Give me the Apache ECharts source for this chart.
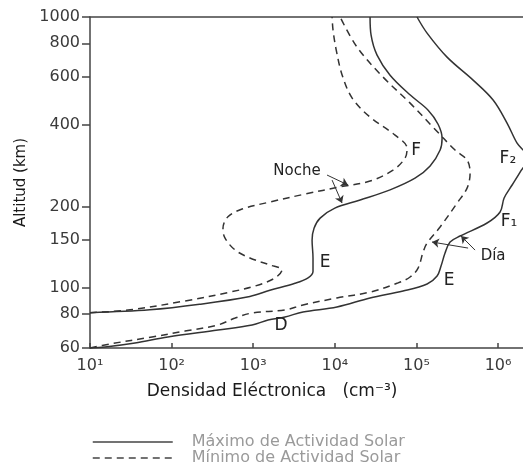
<!DOCTYPE html>
<html><head><meta charset="utf-8">
<script src="https://cdn.jsdelivr.net/npm/echarts@6/dist/echarts.min.js"></script>
<style>html,body{margin:0;padding:0;background:#fff}#c{width:523px;height:468px}</style>
</head><body><div id="c"></div>
<script>
// ---- data (density in cm^-3, altitude in km) ----
const xTickExponents = [1, 2, 3, 4, 5, 6];
const yTickValues = [60, 80, 100, 150, 200, 400, 600, 800, 1000];
const xMinDensity = 10;
const xMaxDensity = 2.02e6;
const yMinAltitude = 60;
const yMaxAltitude = 1000;
const seriesNames = ['Máximo de Actividad Solar', 'Mínimo de Actividad Solar'];

const nightMaxDensity = [10, 54, 220, 910, 1600, 3250, 4700, 5400, 5400, 5260, 5560, 6600, 10000, 20400, 47500, 96000, 147000, 195000, 206000, 184000, 139000, 84000, 47500, 32900, 27800, 27000];
const nightMaxAltitude = [81, 83, 87, 93, 98, 104, 109, 115, 129, 150, 166, 181, 197, 211, 230, 254, 282, 323, 357, 402, 453, 515, 610, 723, 857, 1000];

const nightMinDensity = [10, 31, 146, 520, 1050, 1850, 2250, 1600, 910, 600, 450, 426, 490, 730, 1600, 4300, 11600, 27000, 51600, 72500, 76700, 54700, 27000, 16300, 12300, 10400, 9500, 9250];
const nightMinAltitude = [81, 83, 89.5, 96.5, 101.6, 108.8, 116.5, 121.5, 129, 138, 153, 166, 183, 195.5, 207.5, 222, 236, 248, 272, 301.5, 328, 366.5, 427, 502, 610, 755, 895, 1000];

const dayMaxDensity = [10, 15.3, 35.6, 90, 370, 970, 1520, 2450, 4070, 10600, 27000, 68500, 135000, 179000, 200000, 224000, 258000, 342000, 733000, 1058000, 1186000, 1486000, 1862000, 2334000, 1710000, 1288000, 869000, 494000, 237000, 134900, 101600];
const dayMaxAltitude = [60, 60.5, 62.6, 65.9, 69.9, 73, 76.1, 78.1, 81.5, 85, 91.8, 97.4, 103.4, 110.6, 120.4, 134.5, 147.7, 155.4, 173.6, 190.6, 214.7, 239.8, 267.7, 301.5, 342, 406, 494, 585, 711, 872, 1000];

const dayMinDensity = [10, 17.6, 57.5, 146, 370, 600, 970, 2450, 4070, 10600, 27000, 57800, 83600, 104700, 120600, 135000, 194600, 315000, 417000, 454000, 417000, 297000, 159600, 83600, 39000, 18700, 11600];
const dayMinAltitude = [60, 62.1, 65.9, 69.3, 73, 77.4, 80.8, 82.9, 86.5, 91.8, 96.5, 104, 109.7, 118.4, 135.7, 146.5, 167.8, 205.7, 233.6, 265.4, 296.4, 322.7, 392, 481, 600, 774, 1000];

// annotations (text, density, altitude)
const labelTexts = ['Noche', 'F', 'F₂', 'F₁', 'Día', 'E', 'E', 'D'];
const labelDensity = [3440, 98900, 1.32e6, 1.365e6, 869000, 251000, 7590, 2193];
const labelAltitude = [270, 320, 299, 175, 131, 106, 123.5, 72.4];
const labelSizes = [15, 17, 17, 17, 15, 17, 17, 17];

// arrows: start (density, altitude) -> end (density, altitude)
const arrowStartDensity = [8020, 9250, 429000, 522000];
const arrowStartAltitude = [261, 250, 140.3, 137.9];
const arrowEndDensity = [14500, 12250, 155000, 352000];
const arrowEndAltitude = [239.8, 205.7, 147.7, 155.4];

// ---- chart ----
const L = Math.log10;
const pairs = (d, a) => d.map((v, i) => [L(v), L(a[i])]);
const sup = {1: '¹', 2: '²', 3: '³', 4: '⁴', 5: '⁵', 6: '⁶'};
const lineColor = '#333';
const font = 'DejaVu Sans';

const chart = echarts.init(document.getElementById('c'), null, {renderer: 'canvas'});

const markPointData = labelTexts.map((t, i) => ({
  name: t,
  coord: [L(labelDensity[i]), L(labelAltitude[i])],
  label: {fontSize: labelSizes[i]}
}));
const markLineData = arrowStartDensity.map((d, i) => [
  {coord: [L(d), L(arrowStartAltitude[i])]},
  {coord: [L(arrowEndDensity[i]), L(arrowEndAltitude[i])]}
]);

function mkSeries(name, d, a, dashed, extra) {
  return Object.assign({
    type: 'line',
    name: name,
    data: pairs(d, a),
    symbol: 'none',
    smooth: 0.35,
    clip: true,
    lineStyle: {color: lineColor, width: 1.5, type: dashed ? [7, 5] : 'solid'},
    itemStyle: {color: lineColor},
    emphasis: {disabled: true},
    silent: true
  }, extra || {});
}

chart.setOption({
  animation: false,
  backgroundColor: '#fff',
  grid: {left: 90, top: 17, right: 0, bottom: 120},
  legend: {
    data: seriesNames,
    orient: 'vertical',
    left: 92,
    top: 434,
    height: 40,
    padding: 0,
    itemWidth: 80,
    itemHeight: 10,
    itemGap: 0,
    selectedMode: false,
    itemStyle: {color: 'transparent', borderWidth: 0, opacity: 0},
    lineStyle: {color: '#444', width: 1.5},
    textStyle: {fontFamily: font, fontSize: 16, color: '#9a9a9a', lineHeight: 14, padding: [0, 0, 0, 14]}
  },
  xAxis: [{
    type: 'value',
    min: L(xMinDensity),
    max: L(xMaxDensity),
    name: 'Densidad Eléctronica   (cm⁻³)',
    nameLocation: 'middle',
    nameGap: 35,
    nameTextStyle: {fontFamily: font, fontSize: 17, color: '#1a1a1a', padding: [0, 69, 0, 0]},
    axisLine: {show: true, lineStyle: {color: '#444', width: 1.5}},
    axisTick: {show: true, inside: true, length: 5, customValues: xTickExponents, lineStyle: {color: '#444', width: 1.5}},
    axisLabel: {customValues: xTickExponents, fontFamily: font, fontSize: 16, color: '#3a3a3a', margin: 10,
      formatter: v => '10' + sup[Math.round(v)]},
    splitLine: {show: false}
  }, {
    type: 'value',
    position: 'top',
    min: L(xMinDensity),
    max: L(xMaxDensity),
    axisLine: {show: true, lineStyle: {color: '#444', width: 1.5}},
    axisTick: {show: false},
    axisLabel: {show: false},
    splitLine: {show: false}
  }],
  yAxis: {
    type: 'value',
    min: L(yMinAltitude),
    max: L(yMaxAltitude),
    name: 'Altitud (km)',
    nameLocation: 'middle',
    nameRotate: 90,
    nameGap: 61,
    nameTextStyle: {fontFamily: font, fontSize: 15, color: '#1a1a1a'},
    axisLine: {show: true, lineStyle: {color: '#444', width: 1.5}},
    axisTick: {show: true, inside: false, length: 8, customValues: yTickValues.map(L), lineStyle: {color: '#444', width: 1.5}},
    axisLabel: {customValues: yTickValues.map(L), fontFamily: font, fontSize: 16, color: '#3a3a3a', margin: 10,
      formatter: v => String(Math.round(Math.pow(10, v)))},
    splitLine: {show: false}
  },
  series: [
    mkSeries(seriesNames[0], nightMaxDensity, nightMaxAltitude, false, {
      markPoint: {
        symbol: 'rect', symbolSize: 1, silent: true,
        itemStyle: {color: 'transparent'},
        label: {show: true, position: 'inside', formatter: '{b}', fontFamily: font, color: '#222'},
        data: markPointData
      },
      markLine: {
        silent: true,
        symbol: ['none', 'arrow'],
        symbolSize: 7,
        label: {show: false},
        lineStyle: {color: '#333', width: 1, type: 'solid'},
        data: markLineData
      }
    }),
    mkSeries(seriesNames[1], nightMinDensity, nightMinAltitude, true),
    mkSeries(seriesNames[0], dayMaxDensity, dayMaxAltitude, false),
    mkSeries(seriesNames[1], dayMinDensity, dayMinAltitude, true)
  ]
});
</script>
</body></html>
